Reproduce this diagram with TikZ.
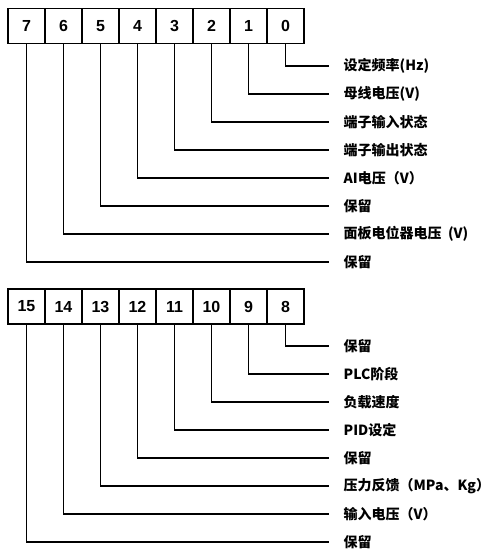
\documentclass[tikz,border=0pt]{standalone}
\usepackage{fontspec}
\setmainfont{Liberation Sans}
\newfontfamily\cjk{Noto Sans CJK SC}
\usetikzlibrary{positioning, calc}

\begin{document}
\begin{tikzpicture}[x=1pt, y=-1pt, line width=1.3pt,
    bitbox/.style={draw, minimum width=37pt, minimum height=35pt, inner sep=0pt,
        font=\fontsize{16}{16}\selectfont\bfseries},
    bitlabel/.style={anchor=west, inner xsep=14pt, inner ysep=0pt,
        font=\cjk\fontsize{14}{14}\selectfont\bfseries}]
    \useasboundingbox (0,0) rectangle (492,550);
    % low byte
    \foreach \b/\txt in {0/设定频率(Hz), 1/母线电压(V), 2/端子输入状态, 3/端子输出状态,
        4/AI电压（V）, 5/保留, 6/面板电位器电压 \ (V), 7/保留} {
        \node[bitbox] (b\b) at ({26.5+37*(7-\b)}, 26) {\b};
        \node[bitlabel] (l\b) at (329, {66+28*\b}) {\txt};
        \draw (b\b.south) |- (l\b.west);
    }
    % high byte
    \foreach \b/\txt in {8/保留, 9/PLC阶段, 10/负载速度, 11/PID设定,
        12/保留, 13/压力反馈（MPa、Kg）, 14/输入电压（V）, 15/保留} {
        \node[bitbox] (b\b) at ({26.5+37*(15-\b)}, 306.5) {\b};
        \node[bitlabel] (l\b) at (329, {346+28*(\b-8)}) {\txt};
        \draw (b\b.south) |- (l\b.west);
    }
\end{tikzpicture}
\end{document}
